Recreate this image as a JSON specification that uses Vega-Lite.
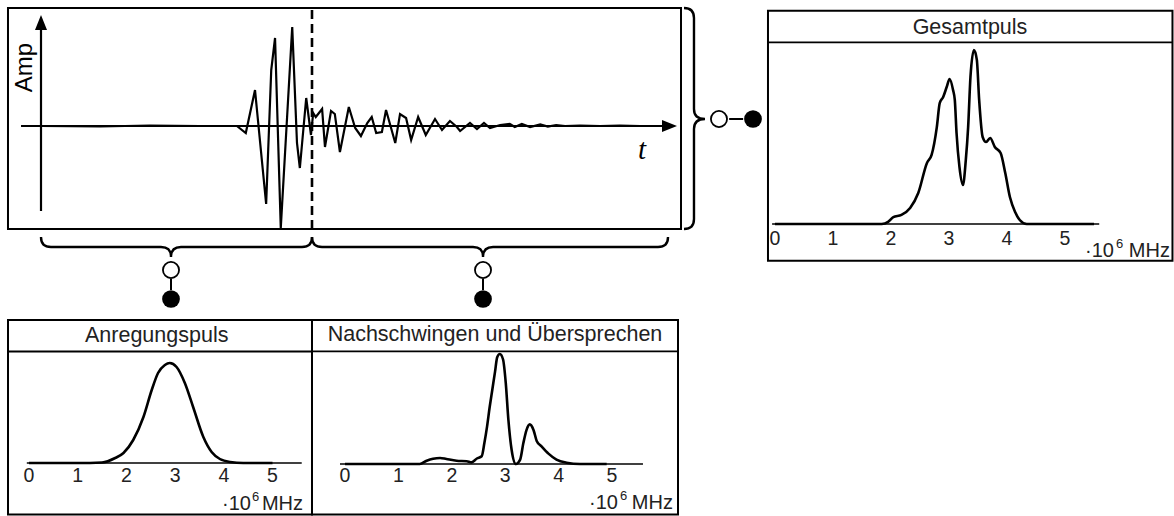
{
"$schema": "https://vega.github.io/schema/vega-lite/v6.json",
"width": 1174,
"height": 516,
"padding": 0,
"autosize": {"type": "none"},
"background": "white",
"config": {
  "view": {"stroke": null},
  "axis": {"disable": true},
  "text": {"font": "Liberation Sans", "color": "#222"}
},
"datasets": {
  "signal": [
    {"t":0,"amp":0},{"t":9.3,"amp":-0.005},{"t":17.1,"amp":0.005},{"t":25,"amp":0},{"t":30.8,"amp":0},
    {"t":32.2,"amp":-0.07},{"t":33.65,"amp":0.36},{"t":35.4,"amp":-0.78},{"t":36.2,"amp":0.56},{"t":36.8,"amp":0.88},
    {"t":37.7,"amp":-1.02},{"t":39.5,"amp":0.99},{"t":40.25,"amp":-0.17},{"t":40.7,"amp":-0.42},{"t":41.7,"amp":0.28},
    {"t":42.45,"amp":-0.09},{"t":42.8,"amp":0.13},{"t":43.2,"amp":0.09},{"t":44.2,"amp":0.17},{"t":44.65,"amp":-0.21},
    {"t":45.6,"amp":0.15},{"t":46.2,"amp":0.12},{"t":47.0,"amp":-0.26},{"t":48.4,"amp":0.19},{"t":49.4,"amp":-0.02},
    {"t":50.3,"amp":-0.1},{"t":51.3,"amp":0.03},{"t":52.0,"amp":0.09},{"t":52.7,"amp":-0.07},{"t":53.6,"amp":-0.06},
    {"t":54.25,"amp":0.16},{"t":55.0,"amp":-0.01},{"t":55.7,"amp":-0.17},{"t":56.45,"amp":0.12},{"t":57.4,"amp":0.08},
    {"t":58.2,"amp":-0.14},{"t":59.3,"amp":0.09},{"t":60.5,"amp":-0.09},{"t":61.95,"amp":0.07},{"t":63.05,"amp":-0.04},
    {"t":64.3,"amp":0.05},{"t":65.4,"amp":-0.01},{"t":65.9,"amp":-0.05},{"t":67.45,"amp":0.03},{"t":68.55,"amp":-0.03},
    {"t":69.65,"amp":0.03},{"t":70.6,"amp":-0.02},{"t":72.2,"amp":0.01},{"t":73.7,"amp":0.02},{"t":74.5,"amp":-0.01},
    {"t":75.6,"amp":0.02},{"t":76.9,"amp":-0.01},{"t":78.5,"amp":0.015},{"t":79.7,"amp":-0.005},{"t":81,"amp":0.01},
    {"t":82.4,"amp":0},{"t":84.75,"amp":0.005},{"t":87.9,"amp":0},{"t":91,"amp":0.005},{"t":94.2,"amp":0},{"t":98,"amp":0}
  ],
  "gesamt": [
    {"f":0,"amp":0},{"f":1,"amp":0},{"f":1.84,"amp":0},{"f":1.95,"amp":0.012},{"f":2.04,"amp":0.04},
    {"f":2.18,"amp":0.052},{"f":2.33,"amp":0.092},{"f":2.47,"amp":0.178},{"f":2.62,"amp":0.351},{"f":2.7,"amp":0.397},
    {"f":2.79,"amp":0.557},{"f":2.84,"amp":0.695},{"f":2.9,"amp":0.73},{"f":2.96,"amp":0.787},{"f":3.01,"amp":0.833},
    {"f":3.07,"amp":0.77},{"f":3.1,"amp":0.713},{"f":3.13,"amp":0.523},{"f":3.18,"amp":0.328},{"f":3.24,"amp":0.224},
    {"f":3.29,"amp":0.368},{"f":3.33,"amp":0.557},{"f":3.37,"amp":0.845},{"f":3.43,"amp":1.0},{"f":3.48,"amp":0.943},
    {"f":3.52,"amp":0.713},{"f":3.58,"amp":0.5},{"f":3.64,"amp":0.471},{"f":3.71,"amp":0.494},{"f":3.79,"amp":0.443},
    {"f":3.89,"amp":0.408},{"f":3.97,"amp":0.293},{"f":4.05,"amp":0.155},{"f":4.14,"amp":0.069},{"f":4.22,"amp":0.023},
    {"f":4.34,"amp":0},{"f":5.5,"amp":0}
  ],
  "anregung": [
    {"f":0,"amp":0},{"f":1,"amp":0},{"f":1.5,"amp":0.005},{"f":1.77,"amp":0.05},{"f":1.94,"amp":0.1},
    {"f":2.14,"amp":0.23},{"f":2.35,"amp":0.46},{"f":2.52,"amp":0.73},{"f":2.65,"amp":0.9},{"f":2.79,"amp":0.98},
    {"f":2.89,"amp":1.0},{"f":3.03,"amp":0.96},{"f":3.2,"amp":0.8},{"f":3.37,"amp":0.56},{"f":3.58,"amp":0.26},
    {"f":3.75,"amp":0.11},{"f":3.92,"amp":0.04},{"f":4.13,"amp":0.01},{"f":4.4,"amp":0},{"f":5,"amp":0}
  ],
  "nachschwingen": [
    {"f":0,"amp":0},{"f":1,"amp":0},{"f":1.4,"amp":0},{"f":1.53,"amp":0.03},{"f":1.65,"amp":0.048},
    {"f":1.78,"amp":0.055},{"f":1.9,"amp":0.045},{"f":2.09,"amp":0.03},{"f":2.28,"amp":0.025},{"f":2.37,"amp":0.015},
    {"f":2.47,"amp":0.05},{"f":2.56,"amp":0.07},{"f":2.61,"amp":0.19},{"f":2.66,"amp":0.34},{"f":2.71,"amp":0.52},
    {"f":2.76,"amp":0.68},{"f":2.81,"amp":0.84},{"f":2.85,"amp":0.97},{"f":2.9,"amp":1.0},{"f":2.96,"amp":0.95},{"f":3.01,"amp":0.74},
    {"f":3.06,"amp":0.4},{"f":3.12,"amp":0.13},{"f":3.2,"amp":0},{"f":3.28,"amp":0.04},{"f":3.34,"amp":0.19},
    {"f":3.4,"amp":0.31},{"f":3.46,"amp":0.36},{"f":3.53,"amp":0.31},{"f":3.59,"amp":0.21},{"f":3.68,"amp":0.16},
    {"f":3.81,"amp":0.094},{"f":3.96,"amp":0.04},{"f":4.15,"amp":0.012},{"f":4.4,"amp":0},{"f":4.9,"amp":0}
  ],
  "ticks": [{"f":0},{"f":1},{"f":2},{"f":3},{"f":4},{"f":5}]
},
"layer": [
  {
    "layer": [
      {"data": {"values": [{}]}, "mark": {"type": "rect", "filled": false, "stroke": "black", "strokeWidth": 2},
       "encoding": {"x": {"datum": -5.19, "type": "quantitative", "scale": {"domain": [0, 100], "range": [41, 677], "nice": false, "zero": false}, "axis": null}, "x2": {"datum": 100.63},
                    "y": {"datum": -1.03, "type": "quantitative", "scale": {"domain": [-1, 1], "range": [226, 26], "nice": false, "zero": false}, "axis": null}, "y2": {"datum": 1.18}}},
      {"data": {"values": [{}]}, "mark": {"type": "rule", "color": "black", "strokeWidth": 2.2},
       "encoding": {"x": {"datum": -3.14, "type": "quantitative", "scale": {"domain": [0, 100], "range": [41, 677], "nice": false, "zero": false}, "axis": null}, "x2": {"datum": 98},
                    "y": {"datum": 0, "type": "quantitative", "scale": {"domain": [-1, 1], "range": [226, 26], "nice": false, "zero": false}, "axis": null}}},
      {"data": {"values": [{}]}, "mark": {"type": "rule", "color": "black", "strokeWidth": 2.2},
       "encoding": {"x": {"datum": 0, "type": "quantitative", "scale": {"domain": [0, 100], "range": [41, 677], "nice": false, "zero": false}, "axis": null},
                    "y": {"datum": -0.85, "type": "quantitative", "scale": {"domain": [-1, 1], "range": [226, 26], "nice": false, "zero": false}, "axis": null}, "y2": {"datum": 1.0}}},
      {"data": {"values": [{}]}, "mark": {"type": "point", "shape": "M 0 0 L -15 -6 L -15 6 Z", "size": 4, "filled": true, "color": "black", "opacity": 1},
       "encoding": {"x": {"datum": 100, "type": "quantitative", "scale": {"domain": [0, 100], "range": [41, 677], "nice": false, "zero": false}, "axis": null},
                    "y": {"datum": 0, "type": "quantitative", "scale": {"domain": [-1, 1], "range": [226, 26], "nice": false, "zero": false}, "axis": null}}},
      {"data": {"values": [{}]}, "mark": {"type": "point", "shape": "M 0 0 L -6 15 L 6 15 Z", "size": 4, "filled": true, "color": "black", "opacity": 1},
       "encoding": {"x": {"datum": 0, "type": "quantitative", "scale": {"domain": [0, 100], "range": [41, 677], "nice": false, "zero": false}, "axis": null},
                    "y": {"datum": 1.11, "type": "quantitative", "scale": {"domain": [-1, 1], "range": [226, 26], "nice": false, "zero": false}, "axis": null}}},
      {"data": {"name": "signal"}, "mark": {"type": "line", "color": "black", "strokeWidth": 2.2},
       "encoding": {"x": {"field": "t", "type": "quantitative", "scale": {"domain": [0, 100], "range": [41, 677], "nice": false, "zero": false}, "axis": null},
                    "y": {"field": "amp", "type": "quantitative", "scale": {"domain": [-1, 1], "range": [226, 26], "nice": false, "zero": false}, "axis": null}}},
      {"data": {"values": [{}]}, "mark": {"type": "rule", "color": "black", "strokeWidth": 2.6, "strokeDash": [9, 5]},
       "encoding": {"x": {"datum": 42.61, "type": "quantitative", "scale": {"domain": [0, 100], "range": [41, 677], "nice": false, "zero": false}, "axis": null},
                    "y": {"datum": -1.03, "type": "quantitative", "scale": {"domain": [-1, 1], "range": [226, 26], "nice": false, "zero": false}, "axis": null}, "y2": {"datum": 1.18}}},
      {"data": {"values": [{}]}, "mark": {"type": "text", "text": "Amp", "angle": 270, "align": "center", "baseline": "middle", "fontSize": 24, "color": "black"},
       "encoding": {"x": {"datum": -2.5, "type": "quantitative", "scale": {"domain": [0, 100], "range": [41, 677], "nice": false, "zero": false}, "axis": null},
                    "y": {"datum": 0.585, "type": "quantitative", "scale": {"domain": [-1, 1], "range": [226, 26], "nice": false, "zero": false}, "axis": null}}},
      {"data": {"values": [{}]}, "mark": {"type": "text", "text": "t", "font": "Liberation Serif", "fontStyle": "italic", "align": "center", "baseline": "middle", "fontSize": 29, "color": "black"},
       "encoding": {"x": {"datum": 94.5, "type": "quantitative", "scale": {"domain": [0, 100], "range": [41, 677], "nice": false, "zero": false}, "axis": null},
                    "y": {"datum": -0.24, "type": "quantitative", "scale": {"domain": [-1, 1], "range": [226, 26], "nice": false, "zero": false}, "axis": null}}},
      {"data": {"values": [{}]}, "mark": {"type": "point", "shape": "M -21 -111 Q -11 -111 -11 -101 L -11 -10 Q -11 0 0 0 Q -11 0 -11 10 L -11 100 Q -11 110 -21 110", "size": 4, "filled": false, "stroke": "black", "strokeWidth": 2.4, "opacity": 1},
       "encoding": {"x": {"datum": 104.4, "type": "quantitative", "scale": {"domain": [0, 100], "range": [41, 677], "nice": false, "zero": false}, "axis": null},
                    "y": {"datum": 0.07, "type": "quantitative", "scale": {"domain": [-1, 1], "range": [226, 26], "nice": false, "zero": false}, "axis": null}}},
      {"data": {"values": [{}]}, "mark": {"type": "point", "shape": "M -130 -20 Q -130 -10 -120 -10 L -10 -10 Q 0 -10 0 0 Q 0 -10 10 -10 L 131 -10 Q 141 -10 141 -20", "size": 4, "filled": false, "stroke": "black", "strokeWidth": 2.4, "opacity": 1},
       "encoding": {"x": {"datum": 20.44, "type": "quantitative", "scale": {"domain": [0, 100], "range": [41, 677], "nice": false, "zero": false}, "axis": null},
                    "y": {"datum": -1.31, "type": "quantitative", "scale": {"domain": [-1, 1], "range": [226, 26], "nice": false, "zero": false}, "axis": null}}},
      {"data": {"values": [{}]}, "mark": {"type": "point", "shape": "M -171 -20 Q -171 -10 -161 -10 L -10 -10 Q 0 -10 0 0 Q 0 -10 10 -10 L 175 -10 Q 185 -10 185 -20", "size": 4, "filled": false, "stroke": "black", "strokeWidth": 2.4, "opacity": 1},
       "encoding": {"x": {"datum": 69.5, "type": "quantitative", "scale": {"domain": [0, 100], "range": [41, 677], "nice": false, "zero": false}, "axis": null},
                    "y": {"datum": -1.31, "type": "quantitative", "scale": {"domain": [-1, 1], "range": [226, 26], "nice": false, "zero": false}, "axis": null}}},
      {"data": {"values": [{}]}, "mark": {"type": "rule", "color": "black", "strokeWidth": 2},
       "encoding": {"x": {"datum": 108.2, "type": "quantitative", "scale": {"domain": [0, 100], "range": [41, 677], "nice": false, "zero": false}, "axis": null}, "x2": {"datum": 110.4},
                    "y": {"datum": 0.07, "type": "quantitative", "scale": {"domain": [-1, 1], "range": [226, 26], "nice": false, "zero": false}, "axis": null}}},
      {"data": {"values": [{}]}, "mark": {"type": "rule", "color": "black", "strokeWidth": 2},
       "encoding": {"x": {"datum": 20.44, "type": "quantitative", "scale": {"domain": [0, 100], "range": [41, 677], "nice": false, "zero": false}, "axis": null},
                    "y": {"datum": -1.53, "type": "quantitative", "scale": {"domain": [-1, 1], "range": [226, 26], "nice": false, "zero": false}, "axis": null}, "y2": {"datum": -1.64}}},
      {"data": {"values": [{}]}, "mark": {"type": "rule", "color": "black", "strokeWidth": 2},
       "encoding": {"x": {"datum": 69.5, "type": "quantitative", "scale": {"domain": [0, 100], "range": [41, 677], "nice": false, "zero": false}, "axis": null},
                    "y": {"datum": -1.53, "type": "quantitative", "scale": {"domain": [-1, 1], "range": [226, 26], "nice": false, "zero": false}, "axis": null}, "y2": {"datum": -1.64}}},
      {"data": {"values": [{}]}, "mark": {"type": "point", "shape": "circle", "size": 260, "filled": true, "fill": "white", "stroke": "black", "strokeWidth": 1.8, "opacity": 1},
       "encoding": {"x": {"datum": 106.6, "type": "quantitative", "scale": {"domain": [0, 100], "range": [41, 677], "nice": false, "zero": false}, "axis": null},
                    "y": {"datum": 0.07, "type": "quantitative", "scale": {"domain": [-1, 1], "range": [226, 26], "nice": false, "zero": false}, "axis": null}}},
      {"data": {"values": [{}]}, "mark": {"type": "point", "shape": "circle", "size": 260, "filled": true, "fill": "white", "stroke": "black", "strokeWidth": 1.8, "opacity": 1},
       "encoding": {"x": {"datum": 20.44, "type": "quantitative", "scale": {"domain": [0, 100], "range": [41, 677], "nice": false, "zero": false}, "axis": null},
                    "y": {"datum": -1.44, "type": "quantitative", "scale": {"domain": [-1, 1], "range": [226, 26], "nice": false, "zero": false}, "axis": null}}},
      {"data": {"values": [{}]}, "mark": {"type": "point", "shape": "circle", "size": 260, "filled": true, "fill": "white", "stroke": "black", "strokeWidth": 1.8, "opacity": 1},
       "encoding": {"x": {"datum": 69.5, "type": "quantitative", "scale": {"domain": [0, 100], "range": [41, 677], "nice": false, "zero": false}, "axis": null},
                    "y": {"datum": -1.44, "type": "quantitative", "scale": {"domain": [-1, 1], "range": [226, 26], "nice": false, "zero": false}, "axis": null}}},
      {"data": {"values": [{}]}, "mark": {"type": "point", "shape": "circle", "size": 314, "filled": true, "color": "black", "opacity": 1},
       "encoding": {"x": {"datum": 111.95, "type": "quantitative", "scale": {"domain": [0, 100], "range": [41, 677], "nice": false, "zero": false}, "axis": null},
                    "y": {"datum": 0.07, "type": "quantitative", "scale": {"domain": [-1, 1], "range": [226, 26], "nice": false, "zero": false}, "axis": null}}},
      {"data": {"values": [{}]}, "mark": {"type": "point", "shape": "circle", "size": 314, "filled": true, "color": "black", "opacity": 1},
       "encoding": {"x": {"datum": 20.44, "type": "quantitative", "scale": {"domain": [0, 100], "range": [41, 677], "nice": false, "zero": false}, "axis": null},
                    "y": {"datum": -1.73, "type": "quantitative", "scale": {"domain": [-1, 1], "range": [226, 26], "nice": false, "zero": false}, "axis": null}}},
      {"data": {"values": [{}]}, "mark": {"type": "point", "shape": "circle", "size": 314, "filled": true, "color": "black", "opacity": 1},
       "encoding": {"x": {"datum": 69.5, "type": "quantitative", "scale": {"domain": [0, 100], "range": [41, 677], "nice": false, "zero": false}, "axis": null},
                    "y": {"datum": -1.73, "type": "quantitative", "scale": {"domain": [-1, 1], "range": [226, 26], "nice": false, "zero": false}, "axis": null}}}
    ]
  },
  {
    "layer": [
      {"data": {"values": [{}]}, "mark": {"type": "rect", "filled": false, "stroke": "black", "strokeWidth": 2},
       "encoding": {"x": {"datum": -0.121, "type": "quantitative", "scale": {"domain": [0, 5], "range": [775, 1065], "nice": false, "zero": false}, "axis": null}, "x2": {"datum": 6.853},
                    "y": {"datum": -0.211, "type": "quantitative", "scale": {"domain": [0, 1], "range": [224, 50], "nice": false, "zero": false}, "axis": null}, "y2": {"datum": 1.226}}},
      {"data": {"values": [{}]}, "mark": {"type": "rule", "color": "black", "strokeWidth": 1.8},
       "encoding": {"x": {"datum": -0.121, "type": "quantitative", "scale": {"domain": [0, 5], "range": [775, 1065], "nice": false, "zero": false}, "axis": null}, "x2": {"datum": 6.853},
                    "y": {"datum": 1.044, "type": "quantitative", "scale": {"domain": [0, 1], "range": [224, 50], "nice": false, "zero": false}, "axis": null}}},
      {"data": {"values": [{"title": "Gesamtpuls"}]}, "mark": {"type": "text", "align": "center", "baseline": "middle", "fontSize": 21.5},
       "encoding": {"text": {"field": "title"},
                    "x": {"datum": 3.362, "type": "quantitative", "scale": {"domain": [0, 5], "range": [775, 1065], "nice": false, "zero": false}, "axis": null},
                    "y": {"datum": 1.129, "type": "quantitative", "scale": {"domain": [0, 1], "range": [224, 50], "nice": false, "zero": false}, "axis": null}}},
      {"data": {"values": [{}]}, "mark": {"type": "rule", "color": "black", "strokeWidth": 1.3},
       "encoding": {"x": {"datum": -0.05, "type": "quantitative", "scale": {"domain": [0, 5], "range": [775, 1065], "nice": false, "zero": false}, "axis": null}, "x2": {"datum": 5.59},
                    "y": {"datum": 0, "type": "quantitative", "scale": {"domain": [0, 1], "range": [224, 50], "nice": false, "zero": false}, "axis": null}}},
      {"data": {"name": "gesamt"}, "mark": {"type": "line", "color": "black", "strokeWidth": 2.6, "interpolate": "monotone"},
       "encoding": {"x": {"field": "f", "type": "quantitative", "scale": {"domain": [0, 5], "range": [775, 1065], "nice": false, "zero": false}, "axis": null},
                    "y": {"field": "amp", "type": "quantitative", "scale": {"domain": [0, 1], "range": [224, 50], "nice": false, "zero": false}, "axis": null}}},
      {"data": {"name": "ticks"}, "mark": {"type": "text", "align": "center", "baseline": "middle", "fontSize": 19.5},
       "encoding": {"text": {"field": "f", "type": "quantitative", "format": "d"},
                    "x": {"field": "f", "type": "quantitative", "scale": {"domain": [0, 5], "range": [775, 1065], "nice": false, "zero": false}, "axis": null},
                    "y": {"datum": -0.086, "type": "quantitative", "scale": {"domain": [0, 1], "range": [224, 50], "nice": false, "zero": false}, "axis": null}}},
      {"data": {"values": [{}]}, "mark": {"type": "text", "text": "MHz", "align": "right", "baseline": "middle", "fontSize": 20},
       "encoding": {"x": {"datum": 6.81, "type": "quantitative", "scale": {"domain": [0, 5], "range": [775, 1065], "nice": false, "zero": false}, "axis": null},
                    "y": {"datum": -0.155, "type": "quantitative", "scale": {"domain": [0, 1], "range": [224, 50], "nice": false, "zero": false}, "axis": null}}},
      {"data": {"values": [{}]}, "mark": {"type": "text", "text": "6", "align": "left", "baseline": "middle", "fontSize": 13, "dx": -54, "dy": -7},
       "encoding": {"x": {"datum": 6.81, "type": "quantitative", "scale": {"domain": [0, 5], "range": [775, 1065], "nice": false, "zero": false}, "axis": null},
                    "y": {"datum": -0.155, "type": "quantitative", "scale": {"domain": [0, 1], "range": [224, 50], "nice": false, "zero": false}, "axis": null}}},
      {"data": {"values": [{}]}, "mark": {"type": "text", "text": "·10", "align": "right", "baseline": "middle", "fontSize": 20, "dx": -56},
       "encoding": {"x": {"datum": 6.81, "type": "quantitative", "scale": {"domain": [0, 5], "range": [775, 1065], "nice": false, "zero": false}, "axis": null},
                    "y": {"datum": -0.155, "type": "quantitative", "scale": {"domain": [0, 1], "range": [224, 50], "nice": false, "zero": false}, "axis": null}}}
    ]
  },
  {
    "layer": [
      {"data": {"values": [{}]}, "mark": {"type": "rect", "filled": false, "stroke": "black", "strokeWidth": 2},
       "encoding": {"x": {"datum": -0.431, "type": "quantitative", "scale": {"domain": [0, 5], "range": [29, 272.5], "nice": false, "zero": false}, "axis": null}, "x2": {"datum": 5.811},
                    "y": {"datum": -0.515, "type": "quantitative", "scale": {"domain": [0, 1], "range": [463, 363], "nice": false, "zero": false}, "axis": null}, "y2": {"datum": 1.43}}},
      {"data": {"values": [{}]}, "mark": {"type": "rule", "color": "black", "strokeWidth": 1.8},
       "encoding": {"x": {"datum": -0.431, "type": "quantitative", "scale": {"domain": [0, 5], "range": [29, 272.5], "nice": false, "zero": false}, "axis": null}, "x2": {"datum": 5.811},
                    "y": {"datum": 1.115, "type": "quantitative", "scale": {"domain": [0, 1], "range": [463, 363], "nice": false, "zero": false}, "axis": null}}},
      {"data": {"values": [{"title": "Anregungspuls"}]}, "mark": {"type": "text", "align": "center", "baseline": "middle", "fontSize": 21.5},
       "encoding": {"text": {"field": "title"},
                    "x": {"datum": 2.622, "type": "quantitative", "scale": {"domain": [0, 5], "range": [29, 272.5], "nice": false, "zero": false}, "axis": null},
                    "y": {"datum": 1.27, "type": "quantitative", "scale": {"domain": [0, 1], "range": [463, 363], "nice": false, "zero": false}, "axis": null}}},
      {"data": {"values": [{}]}, "mark": {"type": "rule", "color": "black", "strokeWidth": 1.3},
       "encoding": {"x": {"datum": -0.045, "type": "quantitative", "scale": {"domain": [0, 5], "range": [29, 272.5], "nice": false, "zero": false}, "axis": null}, "x2": {"datum": 5.6},
                    "y": {"datum": 0, "type": "quantitative", "scale": {"domain": [0, 1], "range": [463, 363], "nice": false, "zero": false}, "axis": null}}},
      {"data": {"name": "anregung"}, "mark": {"type": "line", "color": "black", "strokeWidth": 2.6, "interpolate": "monotone"},
       "encoding": {"x": {"field": "f", "type": "quantitative", "scale": {"domain": [0, 5], "range": [29, 272.5], "nice": false, "zero": false}, "axis": null},
                    "y": {"field": "amp", "type": "quantitative", "scale": {"domain": [0, 1], "range": [463, 363], "nice": false, "zero": false}, "axis": null}}},
      {"data": {"name": "ticks"}, "mark": {"type": "text", "align": "center", "baseline": "middle", "fontSize": 19.5},
       "encoding": {"text": {"field": "f", "type": "quantitative", "format": "d"},
                    "x": {"field": "f", "type": "quantitative", "scale": {"domain": [0, 5], "range": [29, 272.5], "nice": false, "zero": false}, "axis": null},
                    "y": {"datum": -0.13, "type": "quantitative", "scale": {"domain": [0, 1], "range": [463, 363], "nice": false, "zero": false}, "axis": null}}},
      {"data": {"values": [{}]}, "mark": {"type": "text", "text": "MHz", "align": "right", "baseline": "middle", "fontSize": 20},
       "encoding": {"x": {"datum": 5.626, "type": "quantitative", "scale": {"domain": [0, 5], "range": [29, 272.5], "nice": false, "zero": false}, "axis": null},
                    "y": {"datum": -0.405, "type": "quantitative", "scale": {"domain": [0, 1], "range": [463, 363], "nice": false, "zero": false}, "axis": null}}},
      {"data": {"values": [{}]}, "mark": {"type": "text", "text": "6", "align": "left", "baseline": "middle", "fontSize": 13, "dx": -51, "dy": -7},
       "encoding": {"x": {"datum": 5.626, "type": "quantitative", "scale": {"domain": [0, 5], "range": [29, 272.5], "nice": false, "zero": false}, "axis": null},
                    "y": {"datum": -0.405, "type": "quantitative", "scale": {"domain": [0, 1], "range": [463, 363], "nice": false, "zero": false}, "axis": null}}},
      {"data": {"values": [{}]}, "mark": {"type": "text", "text": "·10", "align": "right", "baseline": "middle", "fontSize": 20, "dx": -52},
       "encoding": {"x": {"datum": 5.626, "type": "quantitative", "scale": {"domain": [0, 5], "range": [29, 272.5], "nice": false, "zero": false}, "axis": null},
                    "y": {"datum": -0.405, "type": "quantitative", "scale": {"domain": [0, 1], "range": [463, 363], "nice": false, "zero": false}, "axis": null}}}
    ]
  },
  {
    "layer": [
      {"data": {"values": [{}]}, "mark": {"type": "rect", "filled": false, "stroke": "black", "strokeWidth": 2},
       "encoding": {"x": {"datum": -0.618, "type": "quantitative", "scale": {"domain": [0, 5], "range": [345, 612], "nice": false, "zero": false}, "axis": null}, "x2": {"datum": 6.236},
                    "y": {"datum": -0.459, "type": "quantitative", "scale": {"domain": [0, 1], "range": [464, 354], "nice": false, "zero": false}, "axis": null}, "y2": {"datum": 1.309}}},
      {"data": {"values": [{}]}, "mark": {"type": "rule", "color": "black", "strokeWidth": 1.8},
       "encoding": {"x": {"datum": -0.618, "type": "quantitative", "scale": {"domain": [0, 5], "range": [345, 612], "nice": false, "zero": false}, "axis": null}, "x2": {"datum": 6.236},
                    "y": {"datum": 1.023, "type": "quantitative", "scale": {"domain": [0, 1], "range": [464, 354], "nice": false, "zero": false}, "axis": null}}},
      {"data": {"values": [{"title": "Nachschwingen und Übersprechen"}]}, "mark": {"type": "text", "align": "center", "baseline": "middle", "fontSize": 21.5},
       "encoding": {"text": {"field": "title"},
                    "x": {"datum": 2.809, "type": "quantitative", "scale": {"domain": [0, 5], "range": [345, 612], "nice": false, "zero": false}, "axis": null},
                    "y": {"datum": 1.173, "type": "quantitative", "scale": {"domain": [0, 1], "range": [464, 354], "nice": false, "zero": false}, "axis": null}}},
      {"data": {"values": [{}]}, "mark": {"type": "rule", "color": "black", "strokeWidth": 1.3},
       "encoding": {"x": {"datum": -0.094, "type": "quantitative", "scale": {"domain": [0, 5], "range": [345, 612], "nice": false, "zero": false}, "axis": null}, "x2": {"datum": 5.58},
                    "y": {"datum": 0, "type": "quantitative", "scale": {"domain": [0, 1], "range": [464, 354], "nice": false, "zero": false}, "axis": null}}},
      {"data": {"name": "nachschwingen"}, "mark": {"type": "line", "color": "black", "strokeWidth": 2.6, "interpolate": "monotone"},
       "encoding": {"x": {"field": "f", "type": "quantitative", "scale": {"domain": [0, 5], "range": [345, 612], "nice": false, "zero": false}, "axis": null},
                    "y": {"field": "amp", "type": "quantitative", "scale": {"domain": [0, 1], "range": [464, 354], "nice": false, "zero": false}, "axis": null}}},
      {"data": {"name": "ticks"}, "mark": {"type": "text", "align": "center", "baseline": "middle", "fontSize": 19.5},
       "encoding": {"text": {"field": "f", "type": "quantitative", "format": "d"},
                    "x": {"field": "f", "type": "quantitative", "scale": {"domain": [0, 5], "range": [345, 612], "nice": false, "zero": false}, "axis": null},
                    "y": {"datum": -0.109, "type": "quantitative", "scale": {"domain": [0, 1], "range": [464, 354], "nice": false, "zero": false}, "axis": null}}},
      {"data": {"values": [{}]}, "mark": {"type": "text", "text": "MHz", "align": "right", "baseline": "middle", "fontSize": 20},
       "encoding": {"x": {"datum": 6.142, "type": "quantitative", "scale": {"domain": [0, 5], "range": [345, 612], "nice": false, "zero": false}, "axis": null},
                    "y": {"datum": -0.359, "type": "quantitative", "scale": {"domain": [0, 1], "range": [464, 354], "nice": false, "zero": false}, "axis": null}}},
      {"data": {"values": [{}]}, "mark": {"type": "text", "text": "6", "align": "left", "baseline": "middle", "fontSize": 13, "dx": -53, "dy": -7},
       "encoding": {"x": {"datum": 6.142, "type": "quantitative", "scale": {"domain": [0, 5], "range": [345, 612], "nice": false, "zero": false}, "axis": null},
                    "y": {"datum": -0.359, "type": "quantitative", "scale": {"domain": [0, 1], "range": [464, 354], "nice": false, "zero": false}, "axis": null}}},
      {"data": {"values": [{}]}, "mark": {"type": "text", "text": "·10", "align": "right", "baseline": "middle", "fontSize": 20, "dx": -55},
       "encoding": {"x": {"datum": 6.142, "type": "quantitative", "scale": {"domain": [0, 5], "range": [345, 612], "nice": false, "zero": false}, "axis": null},
                    "y": {"datum": -0.359, "type": "quantitative", "scale": {"domain": [0, 1], "range": [464, 354], "nice": false, "zero": false}, "axis": null}}}
    ]
  }
],
"resolve": {"scale": {"x": "independent", "y": "independent"}}
}
